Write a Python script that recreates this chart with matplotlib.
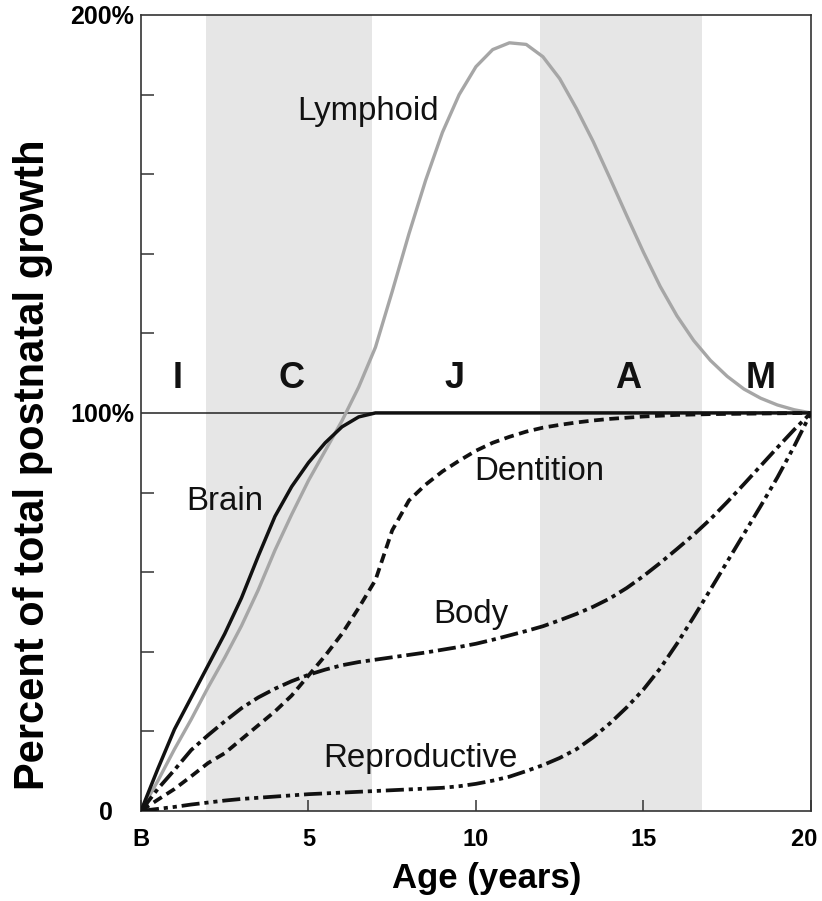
import matplotlib
matplotlib.use("Agg")
import matplotlib.pyplot as plt
from matplotlib.ticker import FixedLocator

plt.rcParams['font.family'] = ['Liberation Sans', 'DejaVu Sans']
plt.rcParams['lines.scale_dashes'] = False

# ---------------- data ----------------
age = [0, 0.5, 1, 1.5, 2, 2.5, 3, 3.5, 4, 4.5, 5, 5.5, 6, 6.5, 7, 7.5, 8, 8.5, 9, 9.5,
       10, 10.5, 11, 11.5, 12, 12.5, 13, 13.5, 14, 14.5, 15, 15.5, 16, 16.5, 17, 17.5,
       18, 18.5, 19, 19.5, 20]

lymphoid = [0, 7.5, 15.5, 23, 31, 38.5, 46.5, 55.5, 65.5, 74.5, 83, 90.5, 98, 106.5, 116.5,
            130.5, 145, 158.5, 170.5, 180, 187, 191.3, 193, 192.6, 189.5, 184, 176.5, 168.2,
            159, 149.6, 140.4, 131.8, 124.4, 118.2, 113.2, 109.2, 106, 103.7, 102, 100.8, 100]

brain = [0, 10.5, 20.5, 28.5, 36.5, 44.5, 53.5, 64, 74, 81.5, 87.5, 92.5, 96.5, 99, 100,
         100, 100, 100, 100, 100, 100, 100, 100, 100, 100, 100, 100, 100, 100, 100, 100,
         100, 100, 100, 100, 100, 100, 100, 100, 100, 100]

dentition = [0, 2.8, 5.5, 8.7, 12, 14.5, 18, 21.5, 25, 29, 34, 39, 44.5, 51, 58, 70.5,
             78, 82, 85.3, 88, 90.5, 92.5, 94, 95.3, 96.3, 97, 97.6, 98.1, 98.5, 98.8, 99.1,
             99.3, 99.5, 99.6, 99.7, 99.75, 99.8, 99.85, 99.9, 99.95, 100]

body = [0, 5.5, 10.3, 15.3, 19, 22.5, 25.8, 28.5, 30.7, 32.6, 34.2, 35.5, 36.6, 37.4, 38, 38.6,
        39.2, 39.8, 40.5, 41.2, 42, 43, 44.1, 45.2, 46.4, 47.9, 49.5, 51.3, 53.4, 56, 59, 62.3,
        65.8, 69.4, 73.3, 77.6, 82.1, 86.7, 91.3, 95.8, 100]

reproductive = [0, 0.5, 1, 1.6, 2.1, 2.6, 3, 3.3, 3.6, 3.9, 4.2, 4.4, 4.6, 4.8, 5, 5.2, 5.4,
                5.6, 5.8, 6.2, 6.8, 7.6, 8.6, 10, 11.5, 13.3, 15.5, 18.5, 22, 26, 30.5, 35.8,
                42, 48.7, 55.6, 62.6, 69.6, 76.6, 83.8, 91.6, 100]

band_spans = [(1.95, 6.9), (11.9, 16.75)]
stage_letters = ['I', 'C', 'J', 'A', 'M']
stage_x = [1.08, 4.5, 9.35, 14.55, 18.5]
stage_y = 106.3

curve_labels = ['Lymphoid', 'Brain', 'Dentition', 'Body', 'Reproductive']
curve_label_x = [6.78, 2.5, 11.88, 9.85, 8.33]
curve_label_y = [173.6, 75.6, 83.2, 47.2, 11.0]

x_ticks = [0, 5, 10, 15, 20]
x_tick_labels = ['B', '5', '10', '15', '20  ']
y_ticks = [0, 100, 200]
y_tick_labels = ['0   ', '100%', '200%']

# ---------------- figure ----------------
fig = plt.figure(figsize=(8.22, 9.01), dpi=100)
ax = fig.add_axes([0.1715, 0.1, 0.815, 0.8834])
ax.set_xlim(0, 20)
ax.set_ylim(0, 200)

for a, b in band_spans:
    ax.axvspan(a, b, color='#e6e6e6', lw=0, zorder=0)

ax.axhline(100, color='#222222', lw=1.1, zorder=1)

ax.plot(age, lymphoid, color='#a6a6a6', lw=2.4, zorder=3)
ax.plot(age, brain, color='#111111', lw=2.5, zorder=4)
ax.plot(age, dentition, color='#111111', lw=2.7, zorder=4,
        linestyle=(0, (7, 4)))
ax.plot(age, body, color='#111111', lw=2.7, zorder=4,
        linestyle=(0, (13, 3.5, 3, 3.5)))
ax.plot(age, reproductive, color='#111111', lw=2.7, zorder=4,
        linestyle=(0, (13, 3.5, 3, 3.5, 3, 3.5)))

for s, x in zip(stage_letters, stage_x):
    ax.text(x, stage_y, s, ha='center', va='baseline', fontsize=26,
            fontweight='bold', color='#111111', zorder=5)

for s, x, y in zip(curve_labels, curve_label_x, curve_label_y):
    ax.text(x, y, s, ha='center', va='baseline', fontsize=23.8, color='#111111', zorder=5)

# axes styling
for sp in ax.spines.values():
    sp.set_linewidth(1.2)
    sp.set_color('#333333')

ax.xaxis.set_major_locator(FixedLocator(x_ticks))
ax.set_xticklabels(x_tick_labels)
ax.yaxis.set_major_locator(FixedLocator(y_ticks))
ax.set_yticklabels(y_tick_labels)
ax.yaxis.set_minor_locator(FixedLocator([20, 40, 60, 80, 120, 140, 160, 180]))

ax.tick_params(axis='x', which='major', direction='in', length=8, width=1.1,
               color='#333333', pad=12, labelsize=17)
ax.tick_params(axis='y', which='major', direction='in', length=0, pad=5, labelsize=18)
ax.tick_params(axis='y', which='minor', direction='in', length=9, width=1.1,
               color='#333333')
for lab in ax.get_xticklabels() + ax.get_yticklabels():
    lab.set_fontweight('bold')

ax.set_xlabel('Age (years)', fontsize=25, fontweight='bold')
ax.xaxis.set_label_coords(0.516, -0.064)
ax.set_ylabel('Percent of total postnatal growth', fontsize=30, fontweight='bold')
ax.yaxis.set_label_coords(-0.132, 0.435)

fig.savefig('out.png', dpi=100)
